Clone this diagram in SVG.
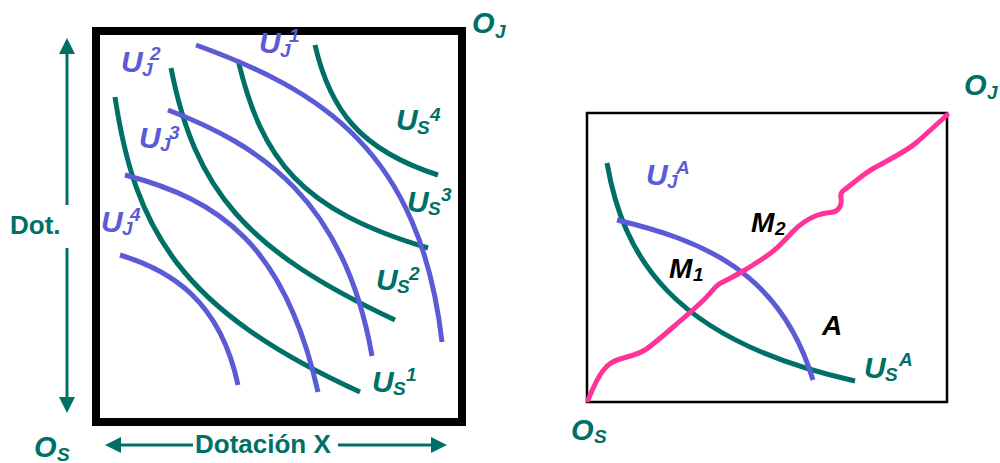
<svg xmlns="http://www.w3.org/2000/svg" width="1000" height="463" viewBox="0 0 1000 463">
<style>
.teal{fill:none;stroke:#007066;stroke-width:5}
.purp{fill:none;stroke:#5B5BD6;stroke-width:5}
.pink{fill:none;stroke:#FF3399;stroke-width:5;stroke-linejoin:round;stroke-linecap:round}
.ax{stroke:#007066;stroke-width:3;fill:none}
text{font-family:"Liberation Sans",Arial,sans-serif;font-weight:bold}
.it{font-style:italic;font-size:30px}
.m{font-style:italic;font-size:28px}
.o{font-style:italic;font-size:29px}
.sm{font-style:italic;font-size:19px}
.tc{fill:#007066}
.pc{fill:#5B5BD6}
.bk{fill:#000}
.ax-t{font-size:26px;fill:#007066}
</style>
<defs>
<marker id="ah" markerWidth="16" markerHeight="16" refX="8" refY="8" orient="auto" markerUnits="userSpaceOnUse">
<path d="M0,0 L16,8 L0,16 z" fill="#007066"/>
</marker>
</defs>
<rect width="1000" height="463" fill="#fff"/>

<g id="left-box">
<rect x="96" y="31" width="366" height="391" fill="none" stroke="#000" stroke-width="8"/>
</g>

<g id="axes">
<line class="ax" x1="67" y1="205" x2="67" y2="46" marker-end="url(#ah)"/>
<line class="ax" x1="67" y1="248" x2="67" y2="405" marker-end="url(#ah)"/>
<line class="ax" x1="193" y1="445" x2="113" y2="445" marker-end="url(#ah)"/>
<line class="ax" x1="338" y1="445" x2="439" y2="445" marker-end="url(#ah)"/>
<text class="ax-t" x="10" y="234">Dot.</text>
<text class="ax-t" x="195" y="453">Dotación X</text>
</g>

<g id="left-curves">
<path class="teal" d="M315,45 C330,110 360,150 438,175"/>
<path class="teal" d="M238,60 C262,160 300,210 428,248"/>
<path class="teal" d="M171,68 C195,190 245,250 395,320"/>
<path class="teal" d="M115,97 C135,230 180,310 360,392"/>
<path class="purp" d="M196,45 C320,90 420,150 442,342"/>
<path class="purp" d="M168,110 C260,145 345,200 372,356"/>
<path class="purp" d="M125,175 C220,200 285,245 318,392"/>
<path class="purp" d="M120,255 C170,270 220,300 238,385"/>
</g>

<g id="left-labels">
<g id="uj1"><text class="it pc" x="259" y="53">U</text><text class="sm pc" x="280" y="57">J</text><text class="sm pc" x="289" y="42">1</text></g>
<g id="uj2"><text class="it pc" x="121" y="72">U</text><text class="sm pc" x="142" y="76">J</text><text class="sm pc" x="150" y="60">2</text></g>
<g id="uj3"><text class="it pc" x="139" y="148">U</text><text class="sm pc" x="160" y="151">J</text><text class="sm pc" x="169" y="139">3</text></g>
<g id="uj4"><text class="it pc" x="101" y="232">U</text><text class="sm pc" x="122" y="235">J</text><text class="sm pc" x="130" y="221">4</text></g>
<g id="us4"><text class="it tc" x="396" y="130">U</text><text class="sm tc" x="417" y="134">S</text><text class="sm tc" x="430" y="121">4</text></g>
<g id="us3"><text class="it tc" x="407" y="212">U</text><text class="sm tc" x="428" y="215">S</text><text class="sm tc" x="441" y="201">3</text></g>
<g id="us2"><text class="it tc" x="376" y="290">U</text><text class="sm tc" x="397" y="293">S</text><text class="sm tc" x="409" y="280">2</text></g>
<g id="us1"><text class="it tc" x="372" y="392">U</text><text class="sm tc" x="393" y="395">S</text><text class="sm tc" x="406" y="381">1</text></g>
<g id="oj-left"><text class="o tc" x="472" y="33">O</text><text class="sm tc" x="495" y="38">J</text></g>
<g id="os-left"><text class="o tc" x="34" y="457">O</text><text class="sm tc" x="57" y="461">S</text></g>
</g>

<g id="right-box">
<rect x="587" y="113" width="360" height="289" fill="none" stroke="#000" stroke-width="2.5"/>
</g>

<g id="right-curves">
<path class="teal" d="M607,163 C623,255 670,340 855,381"/>
<path class="purp" d="M617,220 C700,240 780,270 813,380"/>
<path class="pink" d="M588,400 Q597,378 603.5,370 Q610,362 618.5,359.5 Q627,357 633.5,355 Q640,353 645,350 Q650,347 671.5,328.5 Q693,310 700,303.5 Q707,297 712,291 Q717,285 720,283.5 Q723,282 731.5,277.5 Q740,273 745,270 Q750,267 761.5,259.5 Q773,252 780,245 Q787,238 792,232.5 Q797,227 803.5,222.5 Q810,218 816.5,215.5 Q823,213 830,212.5 Q837,212 839.5,207.5 Q842,203 841,198 Q840,193 843.5,190.5 Q847,188 850,185.5 Q853,183 861.5,176.5 Q870,170 875,167.5 Q880,165 895,156.5 Q910,148 916.5,142.5 Q923,137 947,115"/>
</g>

<g id="right-labels">
<g id="uja"><text class="it pc" x="646" y="185">U</text><text class="sm pc" x="667" y="188">J</text><text class="sm pc" x="676" y="174">A</text></g>
<g id="usa"><text class="it tc" x="864" y="378">U</text><text class="sm tc" x="885" y="381">S</text><text class="sm tc" x="899" y="366">A</text></g>
<g id="m2"><text class="m bk" x="751" y="232">M</text><text class="sm bk" x="775" y="235">2</text></g>
<g id="m1"><text class="m bk" x="669" y="278">M</text><text class="sm bk" x="693" y="281">1</text></g>
<g id="a"><text class="m bk" x="822" y="335">A</text></g>
<g id="oj-right"><text class="o tc" x="964" y="95">O</text><text class="sm tc" x="987" y="99">J</text></g>
<g id="os-right"><text class="o tc" x="571" y="440">O</text><text class="sm tc" x="594" y="443">S</text></g>
</g>
</svg>
